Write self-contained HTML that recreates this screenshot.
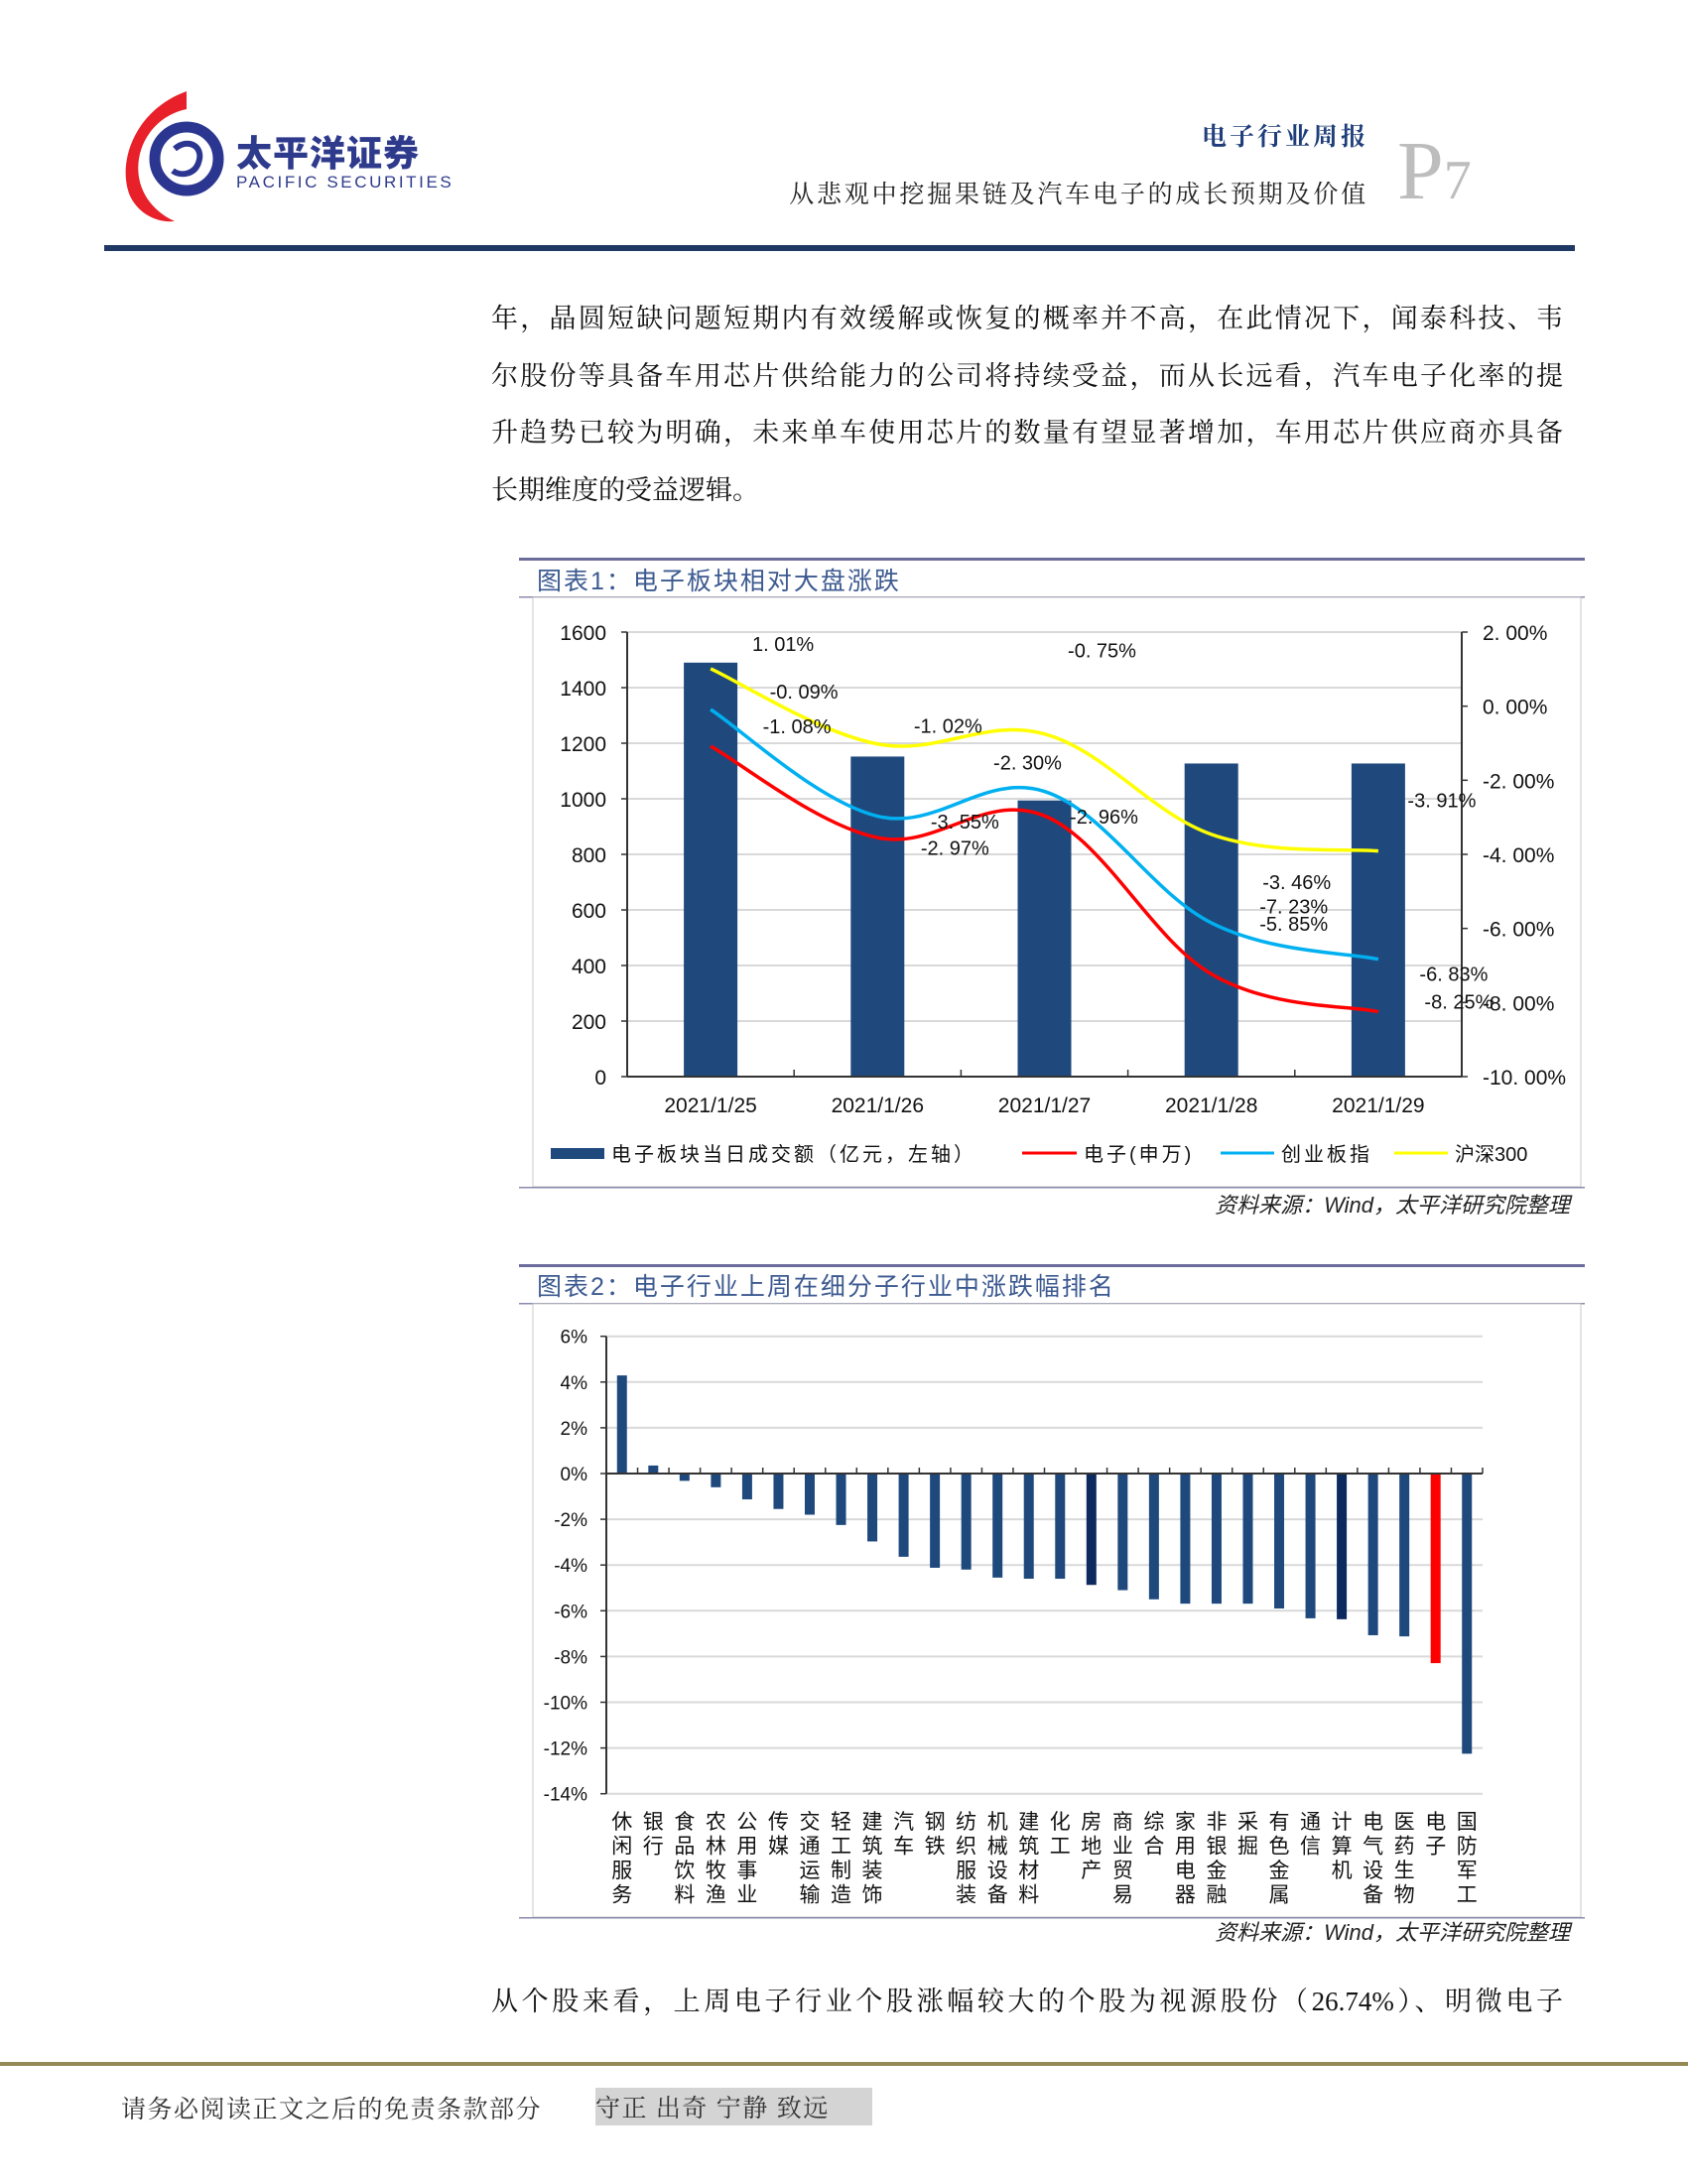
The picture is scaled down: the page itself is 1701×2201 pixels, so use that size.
<!DOCTYPE html>
<html><head><meta charset="utf-8">
<style>
html,body{margin:0;padding:0;background:#fff;}
body{width:1701px;height:2201px;position:relative;overflow:hidden;font-family:"Liberation Serif","Noto Serif CJK SC",serif;}
.abs{position:absolute;}
.body-line{position:absolute;left:495px;width:1080px;font-size:27px;color:#111;text-align:justify;text-align-last:justify;white-space:nowrap;line-height:34px;}
svg text{font-family:"Liberation Sans","Noto Sans CJK SC",sans-serif;}
</style></head>
<body>
<div class="abs" style="left:118px;top:90px;width:330px;height:140px;">
<svg width="330" height="140">
<path d="M70 2 C20 20 0 70 12 105 C20 125 40 135 58 133 C30 120 18 95 22 70 C26 45 45 25 70 20 Z" fill="#e8202a"/>
<circle cx="70" cy="70" r="32" fill="none" stroke="#2b3690" stroke-width="11"/>
<path d="M58 60 C72 48 88 58 82 74 C78 86 64 88 56 82" fill="none" stroke="#2b3690" stroke-width="6"/>
</svg></div>
<div class="abs" style="left:238px;top:130px;font-family:'Noto Sans CJK SC',sans-serif;font-weight:900;font-size:36px;color:#2e3a8c;letter-spacing:1px;line-height:44px;">太平洋证券</div>
<div class="abs" style="left:238px;top:174px;font-family:'Liberation Sans',sans-serif;font-size:17px;color:#2e3a8c;letter-spacing:2.6px;">PACIFIC SECURITIES</div>
<div class="abs" style="right:322px;top:118px;font-family:'Noto Serif CJK SC',serif;font-weight:bold;font-size:25px;color:#1f3e7a;letter-spacing:3px;">电子行业周报</div>
<div class="abs" style="right:322px;top:176px;font-family:'Noto Serif CJK SC',serif;font-size:25px;color:#222;letter-spacing:2.8px;">从悲观中挖掘果链及汽车电子的成长预期及价值</div>
<div class="abs" style="left:1408px;top:128px;font-family:'Liberation Serif',serif;font-size:84px;color:#bdbdbd;line-height:90px;">P<span style="font-size:56px;">7</span></div>
<div class="abs" style="left:105px;top:247px;width:1482px;height:6px;background:#1f3864;"></div>

<div class="body-line" style="top:304px;">年，晶圆短缺问题短期内有效缓解或恢复的概率并不高，在此情况下，闻泰科技、韦</div>
<div class="body-line" style="top:362px;">尔股份等具备车用芯片供给能力的公司将持续受益，而从长远看，汽车电子化率的提</div>
<div class="body-line" style="top:419px;">升趋势已较为明确，未来单车使用芯片的数量有望显著增加，车用芯片供应商亦具备</div>
<div class="body-line" style="top:477px;text-align-last:left;width:auto;">长期维度的受益逻辑。</div>
<div class="body-line" style="top:2000px;">从个股来看，上周电子行业个股涨幅较大的个股为视源股份（26.74%）、明微电子</div>

<div class="abs" style="left:0;top:2078px;width:1701px;height:4px;background:#958a55;"></div>
<div class="abs" style="left:122px;top:2106px;font-family:'Noto Serif CJK SC',serif;font-size:25px;color:#333;letter-spacing:1.5px;">请务必阅读正文之后的免责条款部分</div>
<div class="abs" style="left:600px;top:2104px;width:279px;height:38px;background:#d4d4d4;font-family:'Noto Serif CJK SC',serif;font-size:25px;color:#333;line-height:38px;letter-spacing:1.5px;">守正 出奇 宁静 致远</div>

<svg id="charts" class="abs" style="left:0;top:0" width="1701" height="2201"></svg>

<script>
// ---- Chart 1 data ----
const c1Dates = ["2021/1/25","2021/1/26","2021/1/27","2021/1/28","2021/1/29"];
const c1Volume = [1490, 1152, 994, 1127, 1127];
const c1Elec = [-1.08, -3.55, -2.96, -7.23, -8.25];
const c1Gem = [-0.09, -2.97, -2.30, -5.85, -6.83];
const c1Hs300 = [1.01, -1.02, -0.75, -3.46, -3.91];
const c1LeftTicks = [0,200,400,600,800,1000,1200,1400,1600];
const c1RightTicks = [2,0,-2,-4,-6,-8,-10];
// ---- Chart 2 data ----
const c2Cats = ["休闲服务","银行","食品饮料","农林牧渔","公用事业","传媒","交通运输","轻工制造","建筑装饰","汽车","钢铁","纺织服装","机械设备","建筑材料","化工","房地产","商业贸易","综合","家用电器","非银金融","采掘","有色金属","通信","计算机","电气设备","医药生物","电子","国防军工"];
const c2Vals = [4.29,0.35,-0.32,-0.6,-1.13,-1.55,-1.8,-2.25,-2.97,-3.64,-4.12,-4.2,-4.55,-4.6,-4.6,-4.87,-5.1,-5.5,-5.69,-5.69,-5.69,-5.9,-6.33,-6.37,-7.07,-7.12,-8.29,-12.25];
const c2Ticks = [6,4,2,0,-2,-4,-6,-8,-10,-12,-14];

const svg = document.getElementById('charts');
const NS = 'http://www.w3.org/2000/svg';
function mk(tag, attrs, txt){
  const e = document.createElementNS(NS, tag);
  for (const k in attrs) e.setAttribute(k, attrs[k]);
  if (txt !== undefined) e.textContent = txt;
  svg.appendChild(e);
  return e;
}

let e;
e = mk('rect',{x:523,y:562,width:1074,height:3,fill:'#6c6c9c'});


e = mk('text',{x:541,y:594,'font-size':25,fill:'#3c5a90','font-family':'"Liberation Sans","Noto Serif CJK SC",serif','letter-spacing':2},'图表1：电子板块相对大盘涨跌');


e = mk('rect',{x:523,y:601,width:1074,height:1.5,fill:'#8a8aae'});


e = mk('rect',{x:537,y:602,width:1056,height:594,fill:'none',stroke:'#c8c8c8','stroke-width':1});


e = mk('rect',{x:523,y:1196,width:1074,height:1.5,fill:'#8a8aae'});


e = mk('text',{x:1582,y:1222,'font-size':22,fill:'#222','text-anchor':'end','font-style':'italic','font-family':'"Liberation Serif","Noto Serif CJK SC",serif'},'资料来源：Wind，太平洋研究院整理');



const p1L = 632, p1R = 1473, p1T = 637, p1B = 1085;
const yL = v => p1B - v/1600*(p1B-p1T);
const yR = p => p1T + (2-p)/12*(p1B-p1T);
const band1 = (p1R-p1L)/c1Dates.length;
const x1 = i => p1L + band1*(i+0.5);

c1LeftTicks.forEach(t=>{
  const y = yL(t);
  if (t>0){
    e = mk('line',{x1:p1L,x2:p1R,y1:y,y2:y,stroke:'#d9d9d9','stroke-width':2});
    
    
  }
  e = mk('line',{x1:p1L-6,x2:p1L,y1:y,y2:y,stroke:'#333','stroke-width':1.5});
  
  
  e = mk('text',{x:611,y:y+8,'font-size':21,fill:'#111','text-anchor':'end'},String(t));
  
  
});
c1RightTicks.forEach(t=>{
  const y = yR(t);
  e = mk('line',{x1:p1R,x2:p1R+6,y1:y,y2:y,stroke:'#333','stroke-width':1.5});
  
  
  e = mk('text',{x:1494,y:y+8,'font-size':21,fill:'#111'},t.toFixed(2).replace('.', '. ')+'%');
  
  
});

c1Volume.forEach((v,i)=>{
  e = mk('rect',{x:x1(i)-27,y:yL(v),width:54,height:p1B-yL(v),fill:'#1f497d'});
  
  
});
e = mk('line',{x1:p1L,x2:p1L,y1:p1T,y2:p1B,stroke:'#333','stroke-width':2});


e = mk('line',{x1:p1R,x2:p1R,y1:p1T,y2:p1B,stroke:'#333','stroke-width':2});


e = mk('line',{x1:p1L,x2:p1R,y1:p1B,y2:p1B,stroke:'#333','stroke-width':2});


for (let i=0;i<=c1Dates.length;i++){
  e = mk('line',{x1:p1L+band1*i,x2:p1L+band1*i,y1:p1B,y2:p1B-7,stroke:'#333','stroke-width':1.5});
  
  
}
c1Dates.forEach((d,i)=>{
  e = mk('text',{x:x1(i),y:1121,'font-size':21,fill:'#111','text-anchor':'middle'},d);
  
  
});

function smoothPath(vals){
  const pts = vals.map((v,i)=>[x1(i), yR(v)]);
  let d = 'M'+pts[0][0]+' '+pts[0][1];
  const t = 0.18;
  for (let i=0;i<pts.length-1;i++){
    const p0 = pts[Math.max(0,i-1)], p1 = pts[i], p2 = pts[i+1], p3 = pts[Math.min(pts.length-1,i+2)];
    const c1x = p1[0] + (p2[0]-p0[0])*t, c1y = p1[1] + (p2[1]-p0[1])*t;
    const c2x = p2[0] - (p3[0]-p1[0])*t, c2y = p2[1] - (p3[1]-p1[1])*t;
    d += ' C'+c1x+' '+c1y+' '+c2x+' '+c2y+' '+p2[0]+' '+p2[1];
  }
  return d;
}
e = mk('path',{d:smoothPath(c1Hs300),fill:'none',stroke:'#ffff00','stroke-width':3.5});


e = mk('path',{d:smoothPath(c1Gem),fill:'none',stroke:'#00b0f0','stroke-width':3.5});


e = mk('path',{d:smoothPath(c1Elec),fill:'none',stroke:'#ff0000','stroke-width':3.5});



// data label offsets (layout only)
const hsOff = [[73,-25],[71,-18],[58,-84],[86,48],[64,-51]];
const gemOff = [[94,-18],[78,32],[-17,-29],[83,1],[76,15]];
const elOff = [[87,-20],[88,-16],[60,1],[83,-68],[81,-10]];
function fmt(v){ return v.toFixed(2).replace('.', '. ')+'%'; }
function labels(vals, offs, name){
  vals.forEach((v,i)=>{
    e = mk('text',{x:x1(i)+offs[i][0],y:yR(v)+offs[i][1]+7,'font-size':20,fill:'#111','text-anchor':'middle'},fmt(v));
    
    
  });
}
labels(c1Hs300, hsOff, 'hs300-label');
labels(c1Gem, gemOff, 'gem-label');
labels(c1Elec, elOff, 'electronics-label');

e = mk('rect',{x:555,y:1157,width:54,height:11,fill:'#1f497d'});


e = mk('text',{x:616,y:1170,'font-size':20,fill:'#111','letter-spacing':3},'电子板块当日成交额（亿元，左轴）');


e = mk('line',{x1:1030,x2:1085,y1:1162,y2:1162,stroke:'#ff0000','stroke-width':3});


e = mk('text',{x:1092,y:1170,'font-size':20,fill:'#111','letter-spacing':3},'电子(申万)');


e = mk('line',{x1:1230,x2:1284,y1:1162,y2:1162,stroke:'#00b0f0','stroke-width':3});


e = mk('text',{x:1291,y:1170,'font-size':20,fill:'#111','letter-spacing':3},'创业板指');


e = mk('line',{x1:1405,x2:1459,y1:1162,y2:1162,stroke:'#ffff00','stroke-width':3});


e = mk('text',{x:1466,y:1170,'font-size':20,fill:'#111'},'沪深300');



// ---------- Chart 2 ----------
e = mk('rect',{x:523,y:1274,width:1074,height:3,fill:'#6c6c9c'});


e = mk('text',{x:541,y:1305,'font-size':25,fill:'#3c5a90','font-family':'"Liberation Sans","Noto Serif CJK SC",serif','letter-spacing':2},'图表2：电子行业上周在细分子行业中涨跌幅排名');


e = mk('rect',{x:523,y:1313,width:1074,height:1.5,fill:'#8a8aae'});


e = mk('rect',{x:537,y:1314,width:1056,height:618,fill:'none',stroke:'#c8c8c8','stroke-width':1});


e = mk('rect',{x:523,y:1932,width:1074,height:1.5,fill:'#8a8aae'});


e = mk('text',{x:1582,y:1955,'font-size':22,fill:'#222','text-anchor':'end','font-style':'italic','font-family':'"Liberation Serif","Noto Serif CJK SC",serif'},'资料来源：Wind，太平洋研究院整理');



const p2L = 611, p2R = 1494;
const y2 = p => 1485 - p*23.05;
const band2 = (p2R-p2L)/c2Cats.length;
const x2 = i => p2L + band2*(i+0.5);

c2Ticks.forEach(t=>{
  const y = y2(t);
  if (t!==0){
    e = mk('line',{x1:p2L,x2:p2R,y1:y,y2:y,stroke:'#d9d9d9','stroke-width':2});
    
    
  }
  e = mk('line',{x1:p2L-6,x2:p2L,y1:y,y2:y,stroke:'#333','stroke-width':1.5});
  
  
  e = mk('text',{x:592,y:y+7,'font-size':19,fill:'#111','text-anchor':'end'},t+'%');
  
  
});
c2Vals.forEach((v,i)=>{
  const top = Math.min(y2(v), y2(0)), h = Math.abs(y2(v)-y2(0));
  let col = '#1f497d';
  if (c2Cats[i]==='电子') col = '#ff0000';
  else if (c2Cats[i]==='房地产' || c2Cats[i]==='计算机') col = '#0c2a5e';
  e = mk('rect',{x:x2(i)-5,y:top,width:10,height:h,fill:col});
  
  
  [...c2Cats[i]].forEach((ch,k)=>{
    e = mk('text',{x:x2(i),y:1843+k*24.5,'font-size':21,fill:'#111','text-anchor':'middle','font-family':'"Noto Serif CJK SC",serif'},ch);
    
    
  });
});
e = mk('line',{x1:p2L,x2:p2L,y1:y2(6),y2:y2(-14),stroke:'#333','stroke-width':2});


e = mk('line',{x1:p2L,x2:p2R,y1:y2(0),y2:y2(0),stroke:'#333','stroke-width':2});


for (let i=0;i<=c2Cats.length;i++){
  e = mk('line',{x1:p2L+band2*i,x2:p2L+band2*i,y1:y2(0),y2:y2(0)-6,stroke:'#333','stroke-width':1.5});
  
  
}
</script>
</body></html>
